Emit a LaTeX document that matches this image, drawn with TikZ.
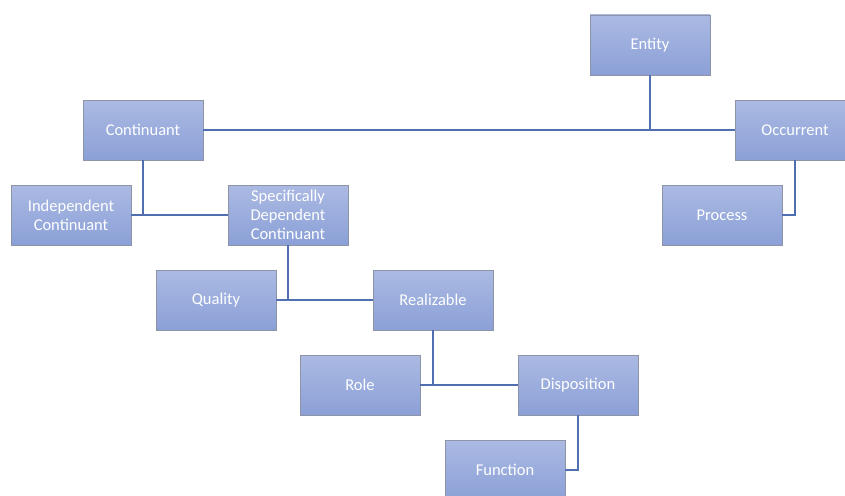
\documentclass[tikz,border=0pt]{standalone}
\usepackage{fontspec}
\setmainfont{Carlito}
\usetikzlibrary{positioning}
\definecolor{boxtop}{HTML}{ABBAE3}
\definecolor{boxbottom}{HTML}{8BA0D7}
\definecolor{boxborder}{HTML}{8C94A6}
\definecolor{linkblue}{HTML}{4F6FB0}
\begin{document}
\begin{tikzpicture}[x=1pt, y=-1pt,
    classbox/.style={rectangle, draw=boxborder, line width=0.8pt,
        top color=boxtop, bottom color=boxbottom,
        minimum width=120pt, minimum height=60pt, inner sep=2pt,
        text=white, align=center, font=\fontsize{16.5}{19}\selectfont},
    link/.style={draw=linkblue, line width=1.3pt}]
    % 範囲
    \clip (0,0) rectangle (845,495);

    % クラスの配置
    \node[classbox] (entity) at (650,45) {Entity};
    \node[classbox] (cont) at (143,130) {Continuant};
    \node[classbox] (occ) at (795,130) {Occurrent};
    \node[classbox] (indep) at (71,215) {Independent\\Continuant};
    \node[classbox] (sdc) at (288,215) {Specifically\\Dependent\\Continuant};
    \node[classbox] (proc) at (722,215) {Process};
    \node[classbox] (qual) at (216,300) {Quality};
    \node[classbox] (real) at (433,300) {Realizable};
    \node[classbox] (role) at (360,385) {Role};
    \node[classbox] (disp) at (578,385) {Disposition};
    \node[classbox] (func) at (505,470) {Function};

    % 上位クラスからの線
    \draw[link] (cont.east) -- (occ.west);
    \draw[link] (entity.south) -- (entity.south |- cont.east);
    \draw[link] (indep.east) -- (sdc.west);
    \draw[link] (cont.south) -- (cont.south |- indep.east);
    \draw[link] (occ.south) |- (proc.east);
    \draw[link] (qual.east) -- (real.west);
    \draw[link] (sdc.south) -- (sdc.south |- qual.east);
    \draw[link] (role.east) -- (disp.west);
    \draw[link] (real.south) -- (real.south |- role.east);
    \draw[link] (disp.south) |- (func.east);
\end{tikzpicture}
\end{document}
